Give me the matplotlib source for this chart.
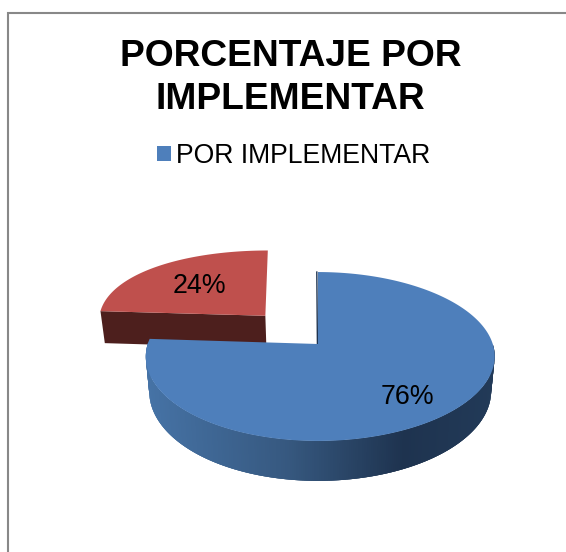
import numpy as np
import matplotlib
matplotlib.use("Agg")
import matplotlib.pyplot as plt
from matplotlib.patches import Polygon, Patch
from matplotlib.colors import to_rgb

plt.rcParams['font.family'] = ['Liberation Sans', 'DejaVu Sans']

# Data
title_text = "PORCENTAJE POR\nIMPLEMENTAR"
series_name = "POR IMPLEMENTAR"
slice_values = [76, 24]
slice_labels = ["76%", "24%"]

W, H = 566, 552
fig = plt.figure(figsize=(W / 100, H / 100), dpi=100)
ax = fig.add_axes([0, 0, 1, 1])
ax.set_xlim(0, W)
ax.set_ylim(H, 0)
ax.axis("off")

# Projection of the tilted pie disc
APEX_X, APEX_Y = 318.0, 344.0
RX, C, RY, SKEW, DEPTH = 172.5, 0.148, 82.6, 0.013, 34.0
BASE_INSET = 0.98


def project(u, v, drop=0.0, xc=C):
    u, v = np.asarray(u, float), np.asarray(v, float)
    s = 1.0 / (1.0 + C * v)
    sx = 1.0 / (1.0 + xc * v)
    inset = 1.0 - (1.0 - BASE_INSET) * drop / DEPTH
    x = APEX_X + RX * u * (1 + SKEW * u) * sx * inset
    y = APEX_Y - RY * v * s + drop * s
    return x, y


def wedge_uv(a0, a1, off=(0.0, 0.0), n=240):
    """Clockwise angles from 12 o'clock, in degrees."""
    t = np.radians(np.linspace(a0, a1, n))
    return np.sin(t) + off[0], np.cos(t) + off[1]


def lerp_color(stops, x):
    xs = [s[0] for s in stops]
    cs = np.array([to_rgb(s[1]) for s in stops])
    return tuple(np.interp(x, xs, cs[:, i]) for i in range(3))


BLUE_STOPS = [(146, "#4673a6"), (290, "#36587f"), (405, "#1e334f"), (495, "#223a58")]
total = sum(slice_values)
sweep = [v / total * 360 for v in slice_values]

# Exploded red slice: side face, then top
a0, a1 = sweep[0], 360.0
off = (-0.312, 0.36)
RED_XC = 0.05
u, v = wedge_uv(a0, a1, off)
x, y = project(u, v, xc=RED_XC)
ax_u = np.array([u[0], off[0]])
ax_v = np.array([v[0], off[1]])
xs, ys = project(ax_u, ax_v, xc=RED_XC)
xb, yb = project(ax_u, ax_v, DEPTH, xc=RED_XC)
ax.add_patch(Polygon([(xs[0], ys[0]), (xs[1], ys[1]), (xb[1], yb[1]), (xb[0], yb[0])],
                     closed=True, fc="#4d1f1d", ec="none", zorder=2))
ox, oy = project(off[0], off[1], xc=RED_XC)
ax.add_patch(Polygon(np.r_[np.c_[x, y], [[ox, oy]]], closed=True,
                     fc="#bf504d", ec="none", zorder=3))

# Blue slice: gradient outer wall (overlapping quads), inner sliver, then top
a0, a1 = 0.0, sweep[0]
u, v = wedge_uv(a0, a1, n=420)
x, y = project(u, v)
xd, yd = project(u, v, DEPTH)
OVER = 3
for i in range(len(u) - 1):
    if v[i] > 0.0:
        continue
    j = min(i + OVER, len(u) - 1)
    ax.add_patch(Polygon(np.r_[np.c_[x[i:j + 1], y[i:j + 1]],
                               np.c_[xd[i:j + 1], yd[i:j + 1]][::-1]],
                         closed=True, fc=lerp_color(BLUE_STOPS, x[i]),
                         ec="none", zorder=4))
ax.plot([x[0] - 1.2, APEX_X - 0.6], [y[0], APEX_Y], color="#1e334f", lw=1.0, zorder=4)
ax.add_patch(Polygon(np.r_[np.c_[x, y], [[APEX_X, APEX_Y]]], closed=True,
                     fc="#4e7fbb", ec="none", zorder=5))

# Labels
ax.text(407, 397, slice_labels[0], fontsize=19.3, ha="center", va="center", color="black", zorder=6)
ax.text(199, 286, slice_labels[1], fontsize=19.3, ha="center", va="center", color="black", zorder=6)

# Title
ax.text(290.5, 78, title_text, fontsize=26.7, fontweight="bold", ha="center", va="center",
        linespacing=1.29, color="black", zorder=6)

# Legend
leg = ax.legend(handles=[Patch(fc="#4e7fbb", ec="none", label=series_name)],
                loc="center", bbox_to_anchor=(293.5, 156), bbox_transform=ax.transData,
                frameon=False, fontsize=19.15, handlelength=0.53, handleheight=0.53,
                handletextpad=0.2, borderpad=0, borderaxespad=0)

# Chart-area border (top and left only are visible)
ax.plot([8, 8, W], [H, 12.5, 12.5], color="#888888", lw=1.5, solid_joinstyle="miter", zorder=1)

fig.savefig("out.png", dpi=100, facecolor="white")
